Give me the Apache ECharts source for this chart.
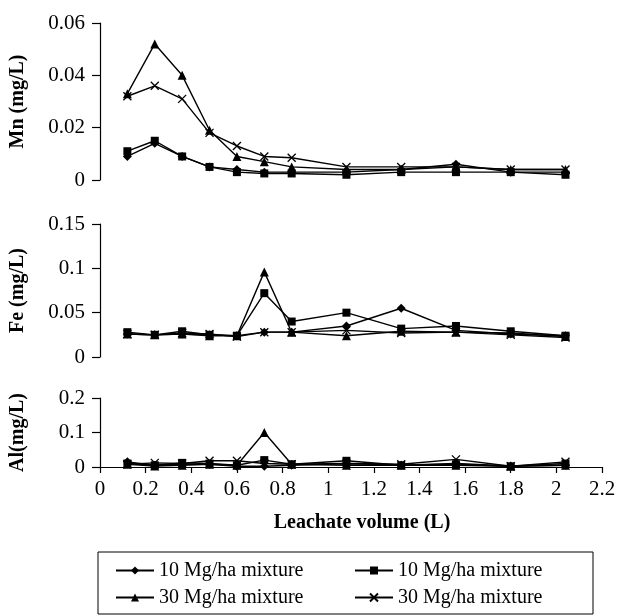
<!DOCTYPE html>
<html>
<head>
<meta charset="utf-8">
<script src="https://cdn.jsdelivr.net/npm/echarts@6/dist/echarts.min.js"></script>
<style>
  html, body { margin: 0; padding: 0; background: #fff; }
  #chart { width: 634px; height: 616px; }
</style>
</head>
<body>
<div id="chart"></div>
<script>
// leachate volume (L), same for every panel
var volume = [0.12, 0.24, 0.36, 0.48, 0.6, 0.72, 0.84, 1.08, 1.32, 1.56, 1.8, 2.04];

// legend names (two pairs of identical labels, trailing space keeps them apart)
var seriesNames = ['10 Mg/ha mixture', '10 Mg/ha mixture ', '30 Mg/ha mixture', '30 Mg/ha mixture '];

// Mn (mg/L)
var mnDiamond  = [0.009, 0.014, 0.009, 0.005, 0.004, 0.003, 0.003, 0.003, 0.004, 0.006, 0.003, 0.003];
var mnSquare   = [0.011, 0.015, 0.009, 0.005, 0.003, 0.0025, 0.0025, 0.002, 0.003, 0.003, 0.003, 0.002];
var mnTriangle = [0.033, 0.052, 0.040, 0.019, 0.009, 0.007, 0.005, 0.004, 0.004, 0.005, 0.004, 0.004];
var mnCross    = [0.032, 0.036, 0.031, 0.018, 0.013, 0.009, 0.0085, 0.005, 0.005, 0.005, 0.004, 0.004];

// Fe (mg/L)
var feDiamond  = [0.026, 0.025, 0.026, 0.025, 0.024, 0.028, 0.028, 0.035, 0.055, 0.030, 0.026, 0.024];
var feSquare   = [0.028, 0.025, 0.029, 0.025, 0.024, 0.072, 0.040, 0.050, 0.032, 0.035, 0.029, 0.024];
var feTriangle = [0.026, 0.025, 0.026, 0.024, 0.024, 0.096, 0.028, 0.024, 0.029, 0.028, 0.027, 0.023];
var feCross    = [0.026, 0.025, 0.027, 0.026, 0.023, 0.028, 0.028, 0.030, 0.027, 0.028, 0.025, 0.022];

// Al (mg/L)
var alDiamond  = [0.015, 0.005, 0.008, 0.008, 0.002, 0.002, 0.005, 0.010, 0.005, 0.010, 0.003, 0.005];
var alSquare   = [0.010, 0.005, 0.012, 0.010, 0.005, 0.020, 0.008, 0.018, 0.005, 0.008, 0.002, 0.010];
var alTriangle = [0.008, 0.003, 0.005, 0.008, 0.005, 0.100, 0.008, 0.005, 0.005, 0.005, 0.002, 0.005];
var alCross    = [0.008, 0.012, 0.010, 0.018, 0.018, 0.010, 0.008, 0.010, 0.008, 0.022, 0.002, 0.015];

// axis ticks
var xTicks  = [0, 0.2, 0.4, 0.6, 0.8, 1, 1.2, 1.4, 1.6, 1.8, 2, 2.2];
var mnTicks = [0, 0.02, 0.04, 0.06];
var feTicks = [0, 0.05, 0.1, 0.15];
var alTicks = [0, 0.1, 0.2];

var axisNames = ['Mn (mg/L)', 'Fe (mg/L)', 'Al(mg/L)'];
var panels = [
    [mnDiamond, mnSquare, mnTriangle, mnCross],
    [feDiamond, feSquare, feTriangle, feCross],
    [alDiamond, alSquare, alTriangle, alCross]
];
var yTicks = [mnTicks, feTicks, alTicks];

var FONT = "'Liberation Serif', 'Times New Roman', serif";
var symbols = ['diamond', 'rect', 'triangle', 'path://M0,0L10,10M0,10L10,0'];
var symbolSizes = [9, 8, 9, 8];

var grids = [
    {left: 99, right: 32, top: 23, height: 157},
    {left: 99, right: 32, top: 224, height: 133},
    {left: 99, right: 32, top: 398, height: 69}
];

var xAxes = grids.map(function (g, i) {
    var last = i === grids.length - 1;
    return {
        type: 'value',
        gridIndex: i,
        min: xTicks[0],
        max: xTicks[xTicks.length - 1],
        interval: 0.2,
        axisLine: {show: last, onZero: false, lineStyle: {color: '#000', width: 1.2}},
        axisTick: {show: last, length: 6, lineStyle: {color: '#000', width: 1.2}},
        axisLabel: {show: last, margin: 12, color: '#000', fontFamily: FONT, fontSize: 21},
        splitLine: {show: false},
        name: last ? 'Leachate volume (L)' : '',
        nameLocation: 'middle',
        nameGap: 46,
        nameTextStyle: {color: '#000', fontFamily: FONT, fontSize: 20, fontWeight: 'bold', padding: [0, 0, 0, 22]}
    };
});

var yAxes = grids.map(function (g, i) {
    var t = yTicks[i];
    return {
        type: 'value',
        gridIndex: i,
        min: t[0],
        max: t[t.length - 1],
        interval: t[1] - t[0],
        axisLine: {show: true, lineStyle: {color: '#000', width: 1.2}},
        axisTick: {show: true, length: 8, lineStyle: {color: '#000', width: 1.2}},
        axisLabel: {margin: 15, color: '#000', fontFamily: FONT, fontSize: 21},
        splitLine: {show: false},
        name: axisNames[i],
        nameLocation: 'middle',
        nameGap: 72,
        nameTextStyle: {color: '#000', fontFamily: FONT, fontSize: 20, fontWeight: 'bold'}
    };
});

var series = [];
panels.forEach(function (panel, g) {
    panel.forEach(function (values, k) {
        var cross = k === 3;
        series.push({
            type: 'line',
            name: seriesNames[k],
            xAxisIndex: g,
            yAxisIndex: g,
            data: volume.map(function (v, i) { return [v, values[i]]; }),
            symbol: symbols[k],
            symbolSize: symbolSizes[k],
            showAllSymbol: true,
            lineStyle: {color: '#000', width: 1.4},
            itemStyle: cross
                ? {color: '#000', borderColor: '#000', borderWidth: 1.3}
                : {color: '#000', borderWidth: 0},
            emphasis: {disabled: true},
            animation: false
        });
    });
});

var chart = echarts.init(document.getElementById('chart'));
chart.setOption({
    backgroundColor: '#fff',
    animation: false,
    grid: grids,
    xAxis: xAxes,
    yAxis: yAxes,
    legend: {
        data: seriesNames,
        left: 98,
        top: 552,
        width: 480,
        orient: 'horizontal',
        padding: [5, 0, 3, 17],
        itemGap: 0,
        itemWidth: 38,
        itemHeight: 10,
        borderColor: '#000',
        borderWidth: 1,
        selectedMode: false,
        formatter: function (name) { return name.trim(); },
        textStyle: {color: '#000', fontFamily: FONT, fontSize: 20, width: 195, lineHeight: 27}
    },
    series: series
});
</script>
</body>
</html>
